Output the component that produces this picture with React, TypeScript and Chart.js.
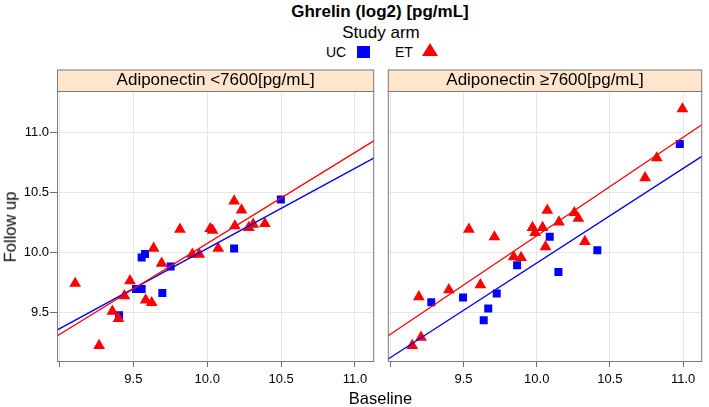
import React, { useEffect, useRef } from 'react';
import { Chart, registerables } from 'chart.js';

Chart.register(...registerables);

const FONT = "'Liberation Sans', Arial, Helvetica, sans-serif";

// ---- axis settings ----
const X_MIN = 8.983;
const X_MAX = 11.13;
const Y_MIN = 9.083;
const Y_MAX = 11.35;
const xTicks = [9.0, 9.5, 10.0, 10.5, 11.0];
const yTicks = [9.5, 10.0, 10.5, 11.0];

// ---- panel labels ----
const panelLabels = ['Adiponectin <7600[pg/mL]', 'Adiponectin \u22657600[pg/mL]'];

// ---- left panel (Adiponectin < 7600) ----
const leftUCBaseline = [9.403, 9.518, 9.556, 9.556, 9.579, 9.696, 9.752, 10.182, 10.498];
const leftUCFollow = [9.475, 9.694, 9.694, 9.958, 9.986, 9.661, 9.881, 10.033, 10.442];
const leftETBaseline = [9.106, 9.268, 9.358, 9.399, 9.439, 9.477, 9.583, 9.624, 9.637, 9.691, 9.815, 9.899, 9.946, 10.02, 10.036, 10.074, 10.182, 10.187, 10.232, 10.281, 10.311, 10.39];
const leftETFollow = [9.74, 9.22, 9.507, 9.446, 9.637, 9.762, 9.601, 9.579, 10.034, 9.909, 10.193, 9.984, 9.984, 10.198, 10.184, 10.034, 10.429, 10.221, 10.354, 10.207, 10.234, 10.24];
const leftUCLineX = [8.983, 11.13];
const leftUCLineY = [9.35, 10.79];
const leftETLineX = [8.983, 11.13];
const leftETLineY = [9.3, 10.935];

// ---- right panel (Adiponectin >= 7600) ----
const rightUCBaseline = [9.28, 9.497, 9.638, 9.669, 9.727, 9.866, 10.089, 10.148, 10.414, 10.977];
const rightUCFollow = [9.583, 9.622, 9.433, 9.531, 9.656, 9.892, 10.131, 9.836, 10.017, 10.907];
const rightETBaseline = [9.15, 9.21, 9.195, 9.4, 9.537, 9.615, 9.711, 9.843, 9.893, 9.971, 9.989, 10.04, 10.072, 10.06, 10.152, 10.257, 10.284, 10.329, 10.74, 10.82, 10.995];
const rightETFollow = [9.221, 9.29, 9.629, 9.687, 10.193, 9.729, 10.129, 9.962, 9.957, 10.207, 10.165, 10.207, 10.351, 10.046, 10.254, 10.332, 10.284, 10.09, 10.624, 10.79, 11.2];
const rightUCLineX = [8.983, 11.13];
const rightUCLineY = [9.106, 10.805];
const rightETLineX = [8.983, 11.13];
const rightETLineY = [9.3, 11.07];

const UC_COLOR = '#0000ff';
const ET_COLOR = '#ff0000';

const zip = (xs: number[], ys: number[]) => xs.map((x, i) => ({ x, y: ys[i] }));

const stripPlugin = {
  id: 'stripAndBox',
  afterDraw(chart: any, _args: any, opts: any) {
    const { ctx, chartArea } = chart;
    const { left, right, top, bottom } = chartArea;
    const stripH = 21.5;
    ctx.save();
    ctx.fillStyle = '#ffe5cc';
    ctx.fillRect(left, top - stripH, right - left, stripH);
    ctx.strokeStyle = '#7a7a7a';
    ctx.lineWidth = 1;
    ctx.strokeRect(left + 0.5, top - stripH + 0.5, right - left - 1, stripH);
    ctx.strokeRect(left + 0.5, top + 0.5, right - left - 1, bottom - top - 1);
    ctx.fillStyle = '#000';
    ctx.font = `17px ${FONT}`;
    ctx.textAlign = 'center';
    ctx.textBaseline = 'middle';
    ctx.fillText(opts.label, (left + right) / 2, top - stripH / 2 + 0.5);
    ctx.restore();
  },
};

type Panel = {
  ucX: number[]; ucY: number[]; etX: number[]; etY: number[];
  ucLX: number[]; ucLY: number[]; etLX: number[]; etLY: number[];
  label: string; showY: boolean; padRight: number;
};

function makeChart(canvas: HTMLCanvasElement, p: Panel) {
  return new Chart(canvas, {
    type: 'scatter',
    data: {
      datasets: [
        {
          type: 'line', data: zip(p.etLX, p.etLY), borderColor: ET_COLOR, borderWidth: 1.3,
          pointRadius: 0, fill: false, tension: 0,
        } as any,
        {
          type: 'line', data: zip(p.ucLX, p.ucLY), borderColor: UC_COLOR, borderWidth: 1.3,
          pointRadius: 0, fill: false, tension: 0,
        } as any,
        {
          data: zip(p.etX, p.etY), pointStyle: 'triangle', pointRadius: 6.8,
          backgroundColor: ET_COLOR, borderWidth: 0, pointBorderWidth: 0,
        },
        {
          data: zip(p.ucX, p.ucY), pointStyle: 'rect', pointRadius: 5.66,
          backgroundColor: UC_COLOR, borderWidth: 0, pointBorderWidth: 0,
        },
      ],
    },
    options: {
      animation: false,
      responsive: false,
      devicePixelRatio: 1,
      layout: { padding: { top: 25, right: p.padRight, left: 0, bottom: 0 } },
      plugins: {
        legend: { display: false },
        tooltip: { enabled: false },
        stripAndBox: { label: p.label },
      } as any,
      scales: {
        x: {
          type: 'linear',
          min: X_MIN,
          max: X_MAX,
          afterBuildTicks: (s: any) => { s.ticks = xTicks.map((v) => ({ value: v })); },
          afterFit: (s: any) => { s.height = 45; },
          ticks: {
            autoSkip: false,
            maxRotation: 0,
            padding: 5,
            color: '#000',
            font: { size: 13, family: FONT },
            callback: (v: any) => (Math.abs(Number(v) - 9) < 1e-6 ? '' : Number(v).toFixed(1)),
          },
          grid: { color: '#e6e6e6', tickColor: '#707070', tickLength: 5, lineWidth: 1 },
          border: { display: false },
        },
        y: {
          type: 'linear',
          min: Y_MIN,
          max: Y_MAX,
          afterBuildTicks: (s: any) => { s.ticks = yTicks.map((v) => ({ value: v })); },
          afterFit: (s: any) => { s.width = p.showY ? 57 : 5; },
          ticks: {
            display: p.showY,
            padding: 1,
            color: '#000',
            font: { size: 13, family: FONT },
            callback: (v: any) => Number(v).toFixed(1),
          },
          grid: {
            color: '#e6e6e6', tickColor: '#707070', tickLength: p.showY ? 7 : 0,
            drawTicks: p.showY, lineWidth: 1,
          },
          border: { display: false },
        },
      },
    } as any,
    plugins: [stripPlugin],
  });
}

export default function App() {
  const leftRef = useRef<HTMLCanvasElement | null>(null);
  const rightRef = useRef<HTMLCanvasElement | null>(null);

  useEffect(() => {
    document.body.style.margin = '0';
    Chart.defaults.font.family = FONT;
    const c1 = makeChart(leftRef.current!, {
      ucX: leftUCBaseline, ucY: leftUCFollow, etX: leftETBaseline, etY: leftETFollow,
      ucLX: leftUCLineX, ucLY: leftUCLineY, etLX: leftETLineX, etLY: leftETLineY,
      label: panelLabels[0], showY: true, padRight: 5,
    });
    const c2 = makeChart(rightRef.current!, {
      ucX: rightUCBaseline, ucY: rightUCFollow, etX: rightETBaseline, etY: rightETFollow,
      ucLX: rightUCLineX, ucLY: rightUCLineY, etLX: rightETLineX, etLY: rightETLineY,
      label: panelLabels[1], showY: false, padRight: 2,
    });
    return () => { c1.destroy(); c2.destroy(); };
  }, []);

  const abs = (s: React.CSSProperties): React.CSSProperties => ({ position: 'absolute', whiteSpace: 'nowrap', ...s });

  return (
    <div style={{ position: 'absolute', left: 0, top: 0, width: 709, height: 407, background: '#fff', fontFamily: FONT, color: '#000', overflow: 'hidden' }}>
      <div style={abs({ left: 0, width: 760, top: 3, textAlign: 'center', fontSize: 17, lineHeight: '17px', fontWeight: 'bold' })}>
        Ghrelin (log2) [pg/mL]
      </div>
      <div style={abs({ left: 0, width: 762, top: 24, textAlign: 'center', fontSize: 17, lineHeight: '17px' })}>
        Study arm
      </div>
      <div style={abs({ left: 326, top: 45, fontSize: 14, lineHeight: '14px' })}>UC</div>
      <div style={abs({ left: 357, top: 46, width: 13, height: 12, background: UC_COLOR })} />
      <div style={abs({ left: 395, top: 45, fontSize: 14, lineHeight: '14px' })}>ET</div>
      <div style={abs({ left: 422, top: 43, width: 0, height: 0, borderLeft: '8px solid transparent', borderRight: '8px solid transparent', borderBottom: `13px solid ${ET_COLOR}` })} />

      <canvas ref={leftRef} width={381} height={341} style={{ position: 'absolute', left: 0, top: 66, width: 381, height: 341 }} />
      <canvas ref={rightRef} width={328} height={341} style={{ position: 'absolute', left: 381, top: 66, width: 328, height: 341 }} />

      <div style={abs({ left: 0, width: 761, top: 390, textAlign: 'center', fontSize: 16.5, lineHeight: '16.5px' })}>
        Baseline
      </div>
      <div style={abs({ left: 10, top: 227, fontSize: 16.5, lineHeight: '16.5px', transform: 'translate(-50%, -50%) rotate(-90deg)' })}>
        Follow up
      </div>
    </div>
  );
}
